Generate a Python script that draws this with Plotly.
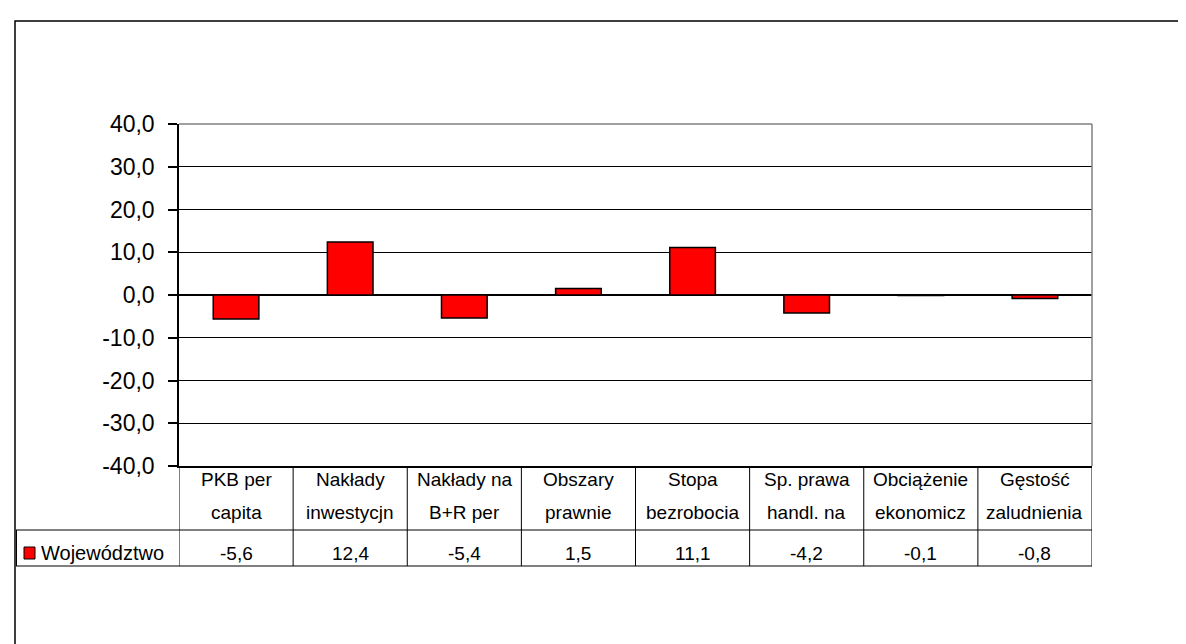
import plotly.graph_objects as go

categories = ["PKB per<br>capita", "Nakłady<br>inwestycjn", "Nakłady na<br>B+R per", "Obszary<br>prawnie",
              "Stopa<br>bezrobocia", "Sp. prawa<br>handl. na", "Obciążenie<br>ekonomicz", "Gęstość<br>zaludnienia"]
values = [-5.6, 12.4, -5.4, 1.5, 11.1, -4.2, -0.1, -0.8]
series_name = "Województwo"
y_ticks = [-40, -30, -20, -10, 0, 10, 20, 30, 40]
y_tick_labels = ["-40,0", "-30,0", "-20,0", "-10,0", "0,0", "10,0", "20,0", "30,0", "40,0"]

W, H = 1186, 644
L, R, T, B = 171, 1084, 116, 458
pw, ph = R - L, B - T

def px_x(x):
    return (x - L) / pw

def px_y(y):
    return (B - y) / ph

FONT = "Liberation Sans, Arial, sans-serif"
n = len(categories)
xs = list(range(n))

fig = go.Figure()
fig.add_trace(go.Bar(x=xs, y=values, width=0.4, name=series_name,
                     marker=dict(color="#FF0000", line=dict(color="black", width=1.5)),
                     showlegend=False, hoverinfo="skip"))

shapes = []
annotations = []

# outer frame
shapes.append(dict(type="rect", xref="paper", yref="paper", x0=px_x(7), x1=px_x(1300),
                   y0=px_y(13), y1=px_y(800), line=dict(color="black", width=1.5), layer="below"))
# plot border top and right (grey)
shapes.append(dict(type="line", xref="paper", yref="paper", x0=0, x1=1, y0=1, y1=1,
                   line=dict(color="#808080", width=1.5)))
shapes.append(dict(type="line", xref="paper", yref="paper", x0=1, x1=1, y0=0, y1=1,
                   line=dict(color="#808080", width=1.5)))

# table
row1_bot = 522
row2_bot = 558
for i in range(n + 1):
    shapes.append(dict(type="line", xref="x", yref="paper", x0=i - 0.5, x1=i - 0.5,
                       y0=0, y1=px_y(row2_bot), line=dict(color="black", width=1)))
shapes.append(dict(type="line", xref="paper", yref="paper", x0=px_x(8), x1=1,
                   y0=px_y(row1_bot), y1=px_y(row1_bot), line=dict(color="black", width=1)))
shapes.append(dict(type="line", xref="paper", yref="paper", x0=px_x(8), x1=1,
                   y0=px_y(row2_bot), y1=px_y(row2_bot), line=dict(color="black", width=1)))
shapes.append(dict(type="line", xref="paper", yref="paper", x0=px_x(8.5), x1=px_x(8.5),
                   y0=px_y(row1_bot), y1=px_y(row2_bot), line=dict(color="black", width=1)))

# legend key
shapes.append(dict(type="rect", xref="paper", yref="paper", x0=px_x(16), x1=px_x(27),
                   y0=px_y(551), y1=px_y(539), fillcolor="#FF0000",
                   line=dict(color="black", width=1)))
annotations.append(dict(xref="paper", yref="paper", x=px_x(31), y=px_y(545), text=series_name,
                        showarrow=False, xanchor="left", yanchor="middle",
                        font=dict(family=FONT, size=20, color="black")))

for i, (c, v) in enumerate(zip(categories, values)):
    lines = c.split("<br>")
    for j, ln in enumerate(lines):
        annotations.append(dict(xref="x", yref="paper", x=i, y=px_y(471 + 33 * j), text=ln,
                                showarrow=False, xanchor="center", yanchor="middle",
                                font=dict(family=FONT, size=19, color="black")))
    annotations.append(dict(xref="x", yref="paper", x=i, y=px_y(545),
                            text=f"{v:.1f}".replace(".", ","), showarrow=False,
                            xanchor="center", yanchor="middle",
                            font=dict(family=FONT, size=19, color="black")))

fig.update_layout(
    width=W, height=H,
    margin=dict(l=L, r=W - R, t=T, b=H - B, pad=0),
    paper_bgcolor="white", plot_bgcolor="white",
    shapes=shapes, annotations=annotations,
    xaxis=dict(range=[-0.5, n - 0.5], showticklabels=False, showgrid=False, zeroline=False,
               showline=True, linecolor="black", linewidth=1.5, ticks=""),
    yaxis=dict(range=[-40, 40], tickvals=y_ticks, ticktext=y_tick_labels, showgrid=True,
               gridcolor="black", gridwidth=1, zeroline=True, zerolinecolor="black",
               zerolinewidth=1.5, showline=True, linecolor="black", linewidth=1.5,
               ticks="outside", ticklen=9, tickcolor="black", tickwidth=1.5,
               ticklabelstandoff=9,
               tickfont=dict(family=FONT, size=23, color="black")),
)

fig.write_html("out.html")
